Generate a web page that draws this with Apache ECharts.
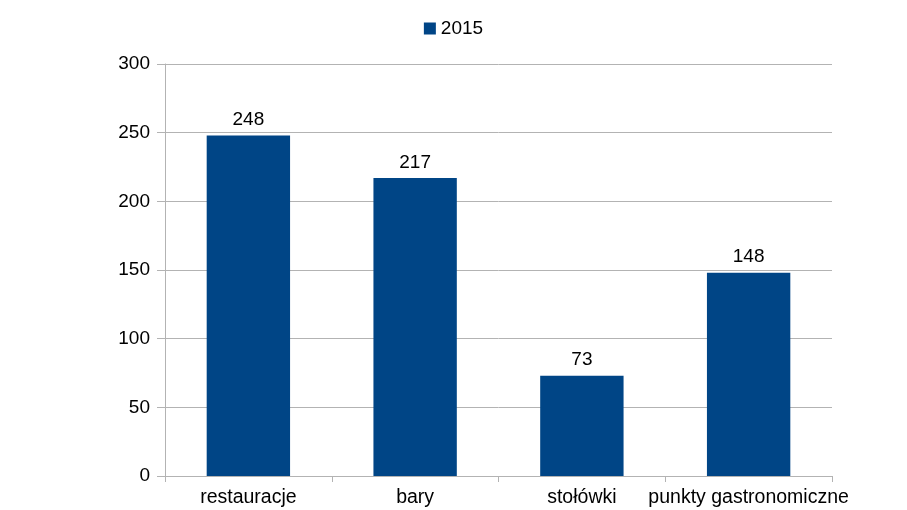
<!DOCTYPE html>
<html>
<head>
<meta charset="utf-8">
<script src="https://cdn.jsdelivr.net/npm/echarts@6/dist/echarts.min.js"></script>
<style>html,body{margin:0;padding:0;background:#fff}#c{width:907px;height:510px}</style>
</head>
<body>
<div id="c"></div>
<script>
const categories = ['restauracje', 'bary', 'stołówki', 'punkty gastronomiczne'];
const values2015 = [248, 217, 73, 148];
const seriesName = '2015';

const chart = echarts.init(document.getElementById('c'), null, {renderer: 'canvas'});
const font = 'Liberation Sans, Arial, sans-serif';
const gray = '#b3b3b3';
chart.setOption({
  animation: false,
  textStyle: {fontFamily: font},
  legend: {
    data: [seriesName],
    top: 14,
    left: 'center',
    itemWidth: 12,
    itemHeight: 12,
    itemGap: 6,
    icon: 'rect',
    textStyle: {fontFamily: font, fontSize: 19, color: '#000'}
  },
  grid: {left: 165, right: 75, top: 64, bottom: 34, containLabel: false},
  xAxis: {
    type: 'category',
    data: categories,
    axisLine: {lineStyle: {color: gray}},
    axisTick: {show: true, length: 6, lineStyle: {color: gray}},
    axisLabel: {fontFamily: font, fontSize: 19.5, color: '#000', margin: 12, interval: 0}
  },
  yAxis: {
    type: 'value',
    min: 0, max: 300, interval: 50,
    axisLine: {show: true, lineStyle: {color: gray}},
    axisTick: {show: true, length: 8, lineStyle: {color: gray}},
    splitLine: {lineStyle: {color: gray}},
    axisLabel: {fontFamily: font, fontSize: 19, color: '#000', margin: 15}
  },
  series: [{
    name: seriesName,
    type: 'bar',
    data: values2015,
    barWidth: '50%',
    itemStyle: {color: '#004586'},
    label: {show: true, position: 'top', distance: 6, fontFamily: font, fontSize: 19, color: '#000'}
  }]
});
</script>
</body>
</html>
